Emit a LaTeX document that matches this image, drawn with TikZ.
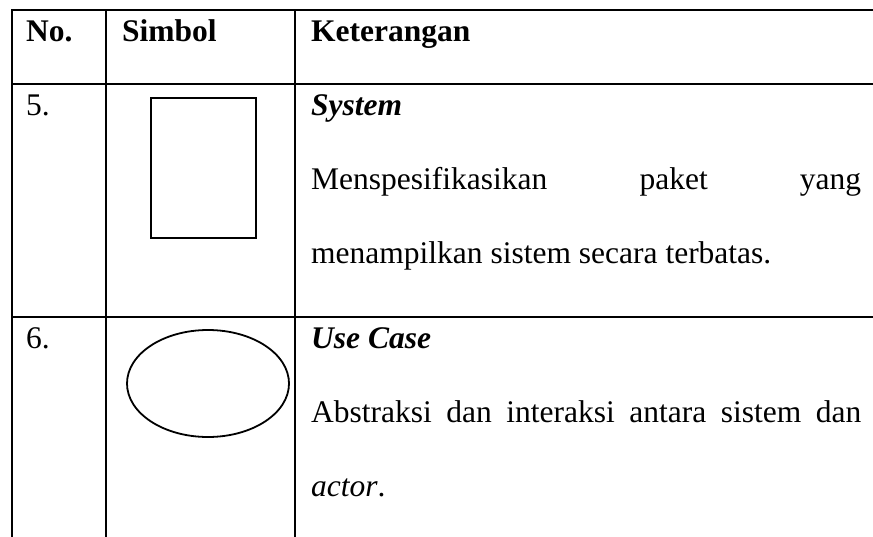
\documentclass[tikz,border=0pt]{standalone}
\usepackage{fontspec}
\setmainfont{Liberation Serif}
\usetikzlibrary{shapes.geometric}
\begin{document}
\begin{tikzpicture}[x=1pt,y=-1pt,
  txt/.style={anchor=base west, inner sep=0pt, font=\fontsize{31.5}{36}\selectfont},
  rule/.style={line width=2.2pt, line cap=rect},
  symb/.style={draw, line width=2.2pt, inner sep=0pt}]
\useasboundingbox (0,0) rectangle (873,536);
\fill[white] (0,0) rectangle (873,536);
% grid coordinates
\coordinate (tl) at (12,10);
\coordinate (tr) at (873,10);
\coordinate (hl) at (12,84);
\coordinate (hr) at (873,84);
\coordinate (rl) at (12,317);
\coordinate (rr) at (873,317);
\coordinate (v0t) at (12,10);
\coordinate (v0b) at (12,536);
\coordinate (v1t) at (106,10);
\coordinate (v1b) at (106,536);
\coordinate (v2t) at (295,10);
\coordinate (v2b) at (295,536);
\draw[rule] (tl) -- (tr);
\draw[rule] (hl) -- (hr);
\draw[rule] (rl) -- (rr);
\draw[rule] (v0t) -- (v0b);
\draw[rule] (v1t) -- (v1b);
\draw[rule] (v2t) -- (v2b);
% header
\node[txt] (hno) at (26,41) {\textbf{No.}};
\node[txt] (hsim) at (122,41) {\textbf{Simbol}};
\node[txt] (hket) at (311,41) {\textbf{Keterangan}};
% row 5
\node[txt] (n5) at (26,115) {5.};
\node[symb, rectangle, minimum width=105pt, minimum height=140pt] (sysbox) at (203.5,168) {};
\node[txt] (t5a) at (311,115) {\textbf{\textit{System}}};
\node[txt] (t5b) at (311,189) {\hbox to 550pt{Menspesifikasikan\hfill paket\hfill yang}};
\node[txt] (t5c) at (311,263) {menampilkan sistem secara terbatas.};
% row 6
\node[txt] (n6) at (26,348) {6.};
\node[symb, ellipse, line width=1.8pt, minimum width=162pt, minimum height=107pt] (uc) at (208,383.5) {};
\node[txt] (t6a) at (311,348) {\textbf{\textit{Use Case}}};
\node[txt] (t6b) at (311,422) {\hbox to 550pt{Abstraksi\hfill dan\hfill interaksi\hfill antara\hfill sistem\hfill dan}};
\node[txt] (t6c) at (311,496) {\textit{actor}.};
\end{tikzpicture}
\end{document}
